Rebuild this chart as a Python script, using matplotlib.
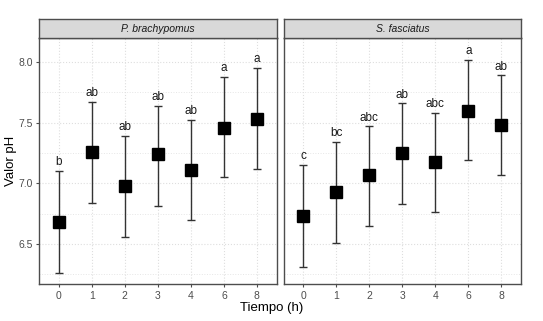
import numpy as np
import matplotlib.pyplot as plt
from matplotlib.ticker import MultipleLocator

plt.rcParams['font.family'] = ['Liberation Sans', 'DejaVu Sans']

tiempos = ['0', '1', '2', '3', '4', '6', '8']
especies = ['P. brachypomus', 'S. fasciatus']

media_pb = [6.68, 7.26, 6.98, 7.24, 7.11, 7.46, 7.53]
sup_pb = [7.10, 7.67, 7.39, 7.64, 7.52, 7.88, 7.95]
inf_pb = [6.26, 6.84, 6.56, 6.81, 6.70, 7.05, 7.12]
letras_pb = ['b', 'ab', 'ab', 'ab', 'ab', 'a', 'a']

media_sf = [6.73, 6.93, 7.07, 7.25, 7.18, 7.60, 7.48]
sup_sf = [7.15, 7.34, 7.47, 7.66, 7.58, 8.02, 7.89]
inf_sf = [6.31, 6.51, 6.65, 6.83, 6.76, 7.19, 7.07]
letras_sf = ['c', 'bc', 'abc', 'ab', 'abc', 'a', 'ab']

datos = [(media_pb, sup_pb, inf_pb, letras_pb),
         (media_sf, sup_sf, inf_sf, letras_sf)]

fig = plt.figure(figsize=(5.43, 3.21), dpi=100)
fig.patch.set_facecolor('white')

paneles = [0.0718, 0.5221]
ancho = 0.4378
abajo, alto = 0.1143, 0.7673

for k, (media, sup, inf, letras) in enumerate(datos):
    ax = fig.add_axes([paneles[k], abajo, ancho, alto])
    x = np.arange(len(tiempos))
    media = np.array(media)
    err = [media - np.array(inf), np.array(sup) - media]
    ax.errorbar(x, media, yerr=err, fmt='none', ecolor='#333333',
                elinewidth=1.0, capsize=3, capthick=1.0, zorder=2)
    ax.plot(x, media, 's', color='black', markersize=9, zorder=3)
    for xi, yi, t in zip(x, sup, letras):
        ax.annotate(t, (xi, yi), xytext=(0, 2), textcoords='offset points',
                    ha='center', va='bottom', fontsize=8.5, color='#1a1a1a')

    ax.set_xlim(-0.6, 6.6)
    ax.set_ylim(6.168, 8.198)
    ax.set_xticks(x)
    ax.set_xticklabels(tiempos)
    ax.yaxis.set_major_locator(MultipleLocator(0.5))
    ax.yaxis.set_minor_locator(MultipleLocator(0.25))
    ax.yaxis.set_major_formatter(plt.FormatStrFormatter('%.1f'))
    ax.grid(True, which='major', color='#dedede', linestyle=':', linewidth=0.8)
    ax.grid(True, which='minor', axis='y', color='#e6e6e6', linestyle=':', linewidth=0.7)
    ax.set_axisbelow(True)
    for s in ax.spines.values():
        s.set_color('#4d4d4d')
        s.set_linewidth(1.0)
    ax.tick_params(axis='both', which='major', labelsize=7.5, colors='#4d4d4d',
                   length=2.5, width=0.8, pad=2)
    ax.tick_params(axis='y', which='minor', length=0)
    if k == 0:
        ax.set_ylabel('Valor pH', fontsize=9.5, labelpad=1)
    else:
        ax.tick_params(axis='y', which='both', left=False, labelleft=False)

    strip = fig.add_axes([paneles[k], abajo + alto, ancho, 0.0592])
    strip.set_facecolor('#d9d9d9')
    strip.set_xticks([])
    strip.set_yticks([])
    for s in strip.spines.values():
        s.set_color('#4d4d4d')
        s.set_linewidth(1.0)
    strip.text(0.5, 0.5, especies[k], ha='center', va='center',
               fontsize=7.5, style='italic', color='#1a1a1a',
               transform=strip.transAxes)

fig.text(0.5, 0.040, 'Tiempo (h)', ha='center', va='center', fontsize=9.5)

fig.savefig('out.png', dpi=100)
